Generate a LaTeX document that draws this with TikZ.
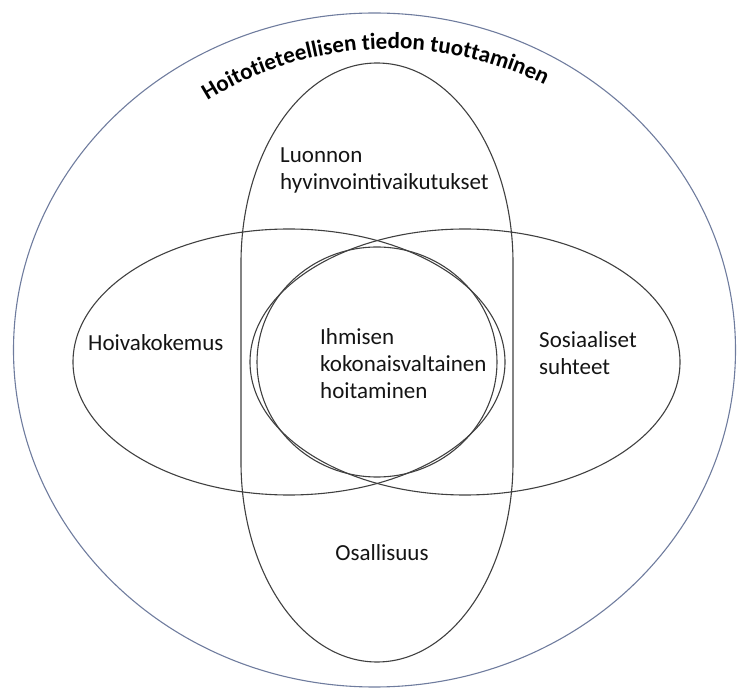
\documentclass[tikz,border=0pt]{standalone}
\usepackage{fontspec}
\setmainfont{Carlito}
\usetikzlibrary{decorations.text}
\definecolor{outerblue}{HTML}{6F7C9E}
\definecolor{ringgray}{HTML}{404040}
\definecolor{inktext}{HTML}{141414}

\begin{document}
\begin{tikzpicture}[
    x=1pt, y=1pt,
    outerring/.style={
        draw=outerblue, line width=1.1pt
    },
    areaedge/.style={
        draw=ringgray, line width=1.1pt
    },
    areatext/.style={
        font=\fontsize{23}{27}\selectfont, text=inktext,
        align=left, inner sep=0pt
    },
]
\useasboundingbox (0,0) rectangle (737,689);

% === Outer frame ===
\draw[outerring] (374.5,339) ellipse[x radius=361, y radius=337];

% Curved title
\path[decorate, decoration={text along path, text align=center,
        text={|\fontsize{23}{23}\selectfont\bfseries|Hoitotieteellisen tiedon tuottaminen}}]
    (390,339) ++(158:325 and 301)
    arc[start angle=158, end angle=28, x radius=325, y radius=301];

% === Overlapping areas ===
% vertical area: top and bottom halves joined by straight sides
\draw[areaedge] (513,426)
    arc[start angle=0, end angle=180, x radius=136, y radius=200] -- (241,227)
    arc[start angle=180, end angle=360, x radius=136, y radius=200] -- cycle;
\draw[areaedge] (289,327) ellipse[x radius=216, y radius=133];
\draw[areaedge] (465,327) ellipse[x radius=215, y radius=133];
\draw[areaedge] (377,327) ellipse[x radius=120, y radius=115];

% === Area labels ===
\node[areatext, anchor=west] (nature) at (280,519) {Luonnon\\hyvinvointivaikutukset};
\node[areatext, anchor=west] (care) at (88,346) {Hoivakokemus};
\node[areatext, anchor=west] (social) at (539,336) {Sosiaaliset\\suhteet};
\node[areatext, anchor=west] (holistic) at (320,325) {Ihmisen\\kokonaisvaltainen\\hoitaminen};
\node[areatext] (participation) at (382,136) {Osallisuus};

\end{tikzpicture}
\end{document}
